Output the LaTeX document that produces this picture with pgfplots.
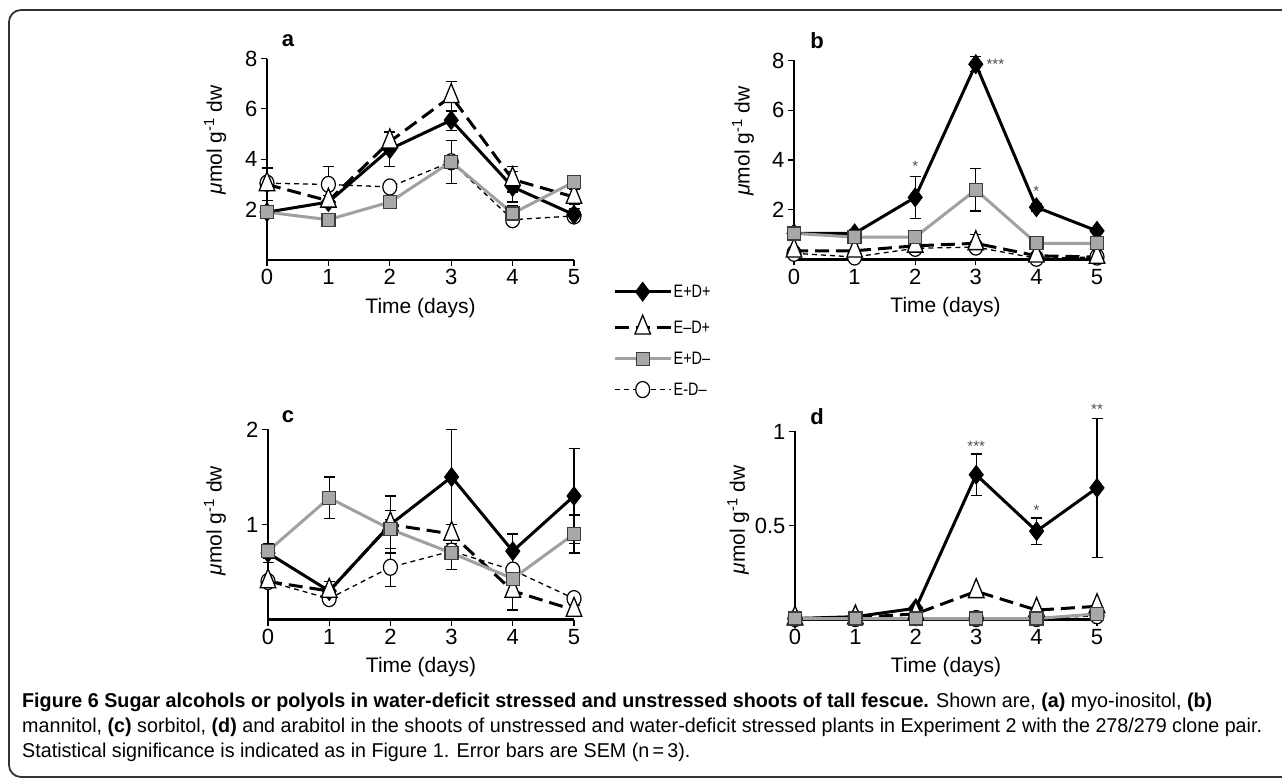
\documentclass[border=0pt]{standalone}
\usepackage{pgfplots}
\pgfplotsset{compat=1.18}
\usepackage{pgfplotstable}
\usepackage{fontspec}
\usepackage{graphicx}
\setmainfont{Liberation Sans}

\definecolor{lgray}{HTML}{A0A0A0}
\definecolor{sqfill}{HTML}{A8A8A8}
\definecolor{sqdraw}{HTML}{3C3C3C}

% columns: pp = E+D+, mp = E-D+, pm = E+D-, mm = E-D-
\pgfplotstableread{
x pp   ppe  mp   mpe  pm   pme  mm   mme
0 1.9  0.1  3.0  0.65 1.9  0.1  3.05 0.1
1 2.3  0.1  2.35 0.2  1.6  0.05 3.0  0.7
2 4.4  0.7  4.7  0.35 2.3  0.05 2.9  0.15
3 5.55 0.4  6.5  0.6  3.9  0.85 3.9  0.1
4 2.9  0.6  3.2  0.5  1.85 0.3  1.6  0.1
5 1.8  0.25 2.5  0.3  3.1  0.1  1.75 0.1
}\tabA
\pgfplotstableread{
x pp   ppe  mp   mpe  pm   pme  mm   mme
0 1.05 0.1  0.35 0.05 1.05 0.1  0.25 0.05
1 1.05 0.15 0.35 0.05 0.9  0.1  0.1  0.05
2 2.5  0.85 0.55 0.1  0.9  0.1  0.45 0.05
3 7.85 0.3  0.65 0.35 2.8  0.85 0.5  0.1
4 2.1  0.15 0.15 0.05 0.65 0.05 0.05 0.05
5 1.15 0.1  0.1  0.05 0.65 0.05 0.1  0.05
}\tabB
\pgfplotstableread{
x pp   ppe  mp   mpe  pm   pme  mm   mme
0 0.7  0.1  0.4  0.05 0.72 0.08 0.4  0.05
1 0.3  0.1  0.3  0.05 1.28 0.22 0.22 0.03
2 1.0  0.3  1.0  0.05 0.95 0.2  0.55 0.2
3 1.5  0.5  0.9  0.1  0.7  0.17 0.72 0.05
4 0.72 0.18 0.3  0.2  0.43 0.05 0.52 0.05
5 1.3  0.5  0.1  0.05 0.9  0.2  0.22 0.03
}\tabC
\pgfplotstableread{
x pp    ppe  mp    mpe  pm    pme  mm    mme
0 0.005 0    0.005 0    0.005 0    0.005 0
1 0.015 0    0.01  0    0.005 0    0.005 0
2 0.06  0.01 0.03  0    0.005 0    0.01  0
3 0.77  0.11 0.15  0    0.005 0    0.005 0
4 0.47  0.07 0.05  0    0.005 0    0.005 0
5 0.7   0.37 0.07  0    0.03  0    0.02  0
}\tabD

\pgfplotsset{
  sPP/.style={black, line width=3pt, mark=diamond*, mark size=9.5pt,
    mark options={solid, fill=black, line width=0.8pt}},
  sMP/.style={black, line width=3pt, dash pattern=on 14pt off 7pt, mark=triangle*, mark size=9pt,
    mark options={solid, fill=white, draw=black, line width=1.3pt, yscale=1.4}},
  sPM/.style={lgray, line width=3pt, mark=square*, mark size=6.5pt,
    mark options={solid, fill=sqfill, draw=sqdraw, line width=1.3pt}},
  sMM/.style={black, line width=1.3pt, dash pattern=on 5pt off 4pt, mark=*, mark size=7pt,
    mark options={solid, fill=white, draw=black, line width=1.2pt, yscale=1.15}},
  ebar/.style={error bars/y dir=both, error bars/y explicit,
    error bars/error bar style={solid, line width=1.2pt, black},
    error bars/error mark options={solid, rotate=90, mark size=5.5pt, line width=1.2pt, black}},
  panel/.style={scale only axis, axis lines=left, axis line style={-, line width=2.2pt, black},
    xmin=0, xmax=5, ymin=0, enlargelimits=false, clip=false,
    xtick={0,1,2,3,4,5}, xticklabels={0,1,2,3,4,5},
    tick align=outside, major tick length=6pt, tick style={line width=1.2pt, black},
    ticklabel style={font=\fontsize{22}{22}\selectfont},
    xlabel={Time (days)}, ylabel={{\itshape μ}mol g\textsuperscript{-1} dw},
    label style={font=\fontsize{21}{21}\selectfont},
    xlabel style={at={(axis description cs:0.5,0)}, anchor=center, yshift=-48pt},
  },
}
\tikzset{stars/.style={font=\fontsize{15}{15}\selectfont, text=black!70}}

\newsavebox\capbox
\newlength\capw
\newcommand\capfont{\fontsize{20}{20}\selectfont}

\begin{document}
\sbox\capbox{\capfont mannitol, \textbf{(c)} sorbitol, \textbf{(d)} and arabitol in the shoots of unstressed and water-deficit stressed plants in Experiment 2 with the 278/279 clone pair.}%
\setlength\capw{\wd\capbox}%
\pgfmathsetmacro\capsx{1240pt/\capw}%
\begin{tikzpicture}[x=1pt, y=1pt]
\useasboundingbox (0,0) rectangle (1282,782);
\draw[line width=1.8pt, black!80, rounded corners=12pt] (1300,772) -- (9,772) -- (9,5) -- (1300,5);

% panel a
\begin{axis}[panel, at={(267pt,522pt)}, anchor=south west, width=307pt, height=201.5pt,
  ymax=8, ytick={2,4,6,8}, yticklabels={2,4,6,8},
  ylabel style={at={(axis description cs:-0.169,0.596)}, anchor=center}]
\addplot[sMM, ebar] table[x=x, y=mm, y error=mme] {\tabA};
\addplot[sPP, ebar] table[x=x, y=pp, y error=ppe] {\tabA};
\addplot[sMP, ebar] table[x=x, y=mp, y error=mpe] {\tabA};
\addplot[sPM, ebar] table[x=x, y=pm, y error=pme] {\tabA};
\node[font=\bfseries\fontsize{22}{22}\selectfont] at (rel axis cs:0.068,1.09) {a};
\end{axis}

% panel b
\begin{axis}[panel, at={(794pt,522.5pt)}, anchor=south west, width=303pt, height=199pt,
  ymax=8, ytick={2,4,6,8}, yticklabels={2,4,6,8},
  ylabel style={at={(axis description cs:-0.168,0.595)}, anchor=center}]
\addplot[sMM, ebar] table[x=x, y=mm, y error=mme] {\tabB};
\addplot[sPP, ebar] table[x=x, y=pp, y error=ppe] {\tabB};
\addplot[sMP, ebar] table[x=x, y=mp, y error=mpe] {\tabB};
\addplot[sPM, ebar] table[x=x, y=pm, y error=pme] {\tabB};
\node[font=\bfseries\fontsize{22}{22}\selectfont] at (rel axis cs:0.076,1.10) {b};
\node[stars] at (axis cs:2,3.75) {*};
\node[stars, anchor=west] at (axis cs:3.12,7.85) {***};
\node[stars] at (axis cs:4,2.75) {*};
\end{axis}

% panel c
\begin{axis}[panel, at={(268pt,162.5pt)}, anchor=south west, width=306pt, height=190pt,
  ymax=2, ytick={1,2}, yticklabels={1,2},
  ylabel style={at={(axis description cs:-0.173,0.52)}, anchor=center}]
\addplot[sMM, ebar] table[x=x, y=mm, y error=mme] {\tabC};
\addplot[sPP, ebar] table[x=x, y=pp, y error=ppe] {\tabC};
\addplot[sMP, ebar] table[x=x, y=mp, y error=mpe] {\tabC};
\addplot[sPM, ebar] table[x=x, y=pm, y error=pme] {\tabC};
\node[font=\bfseries\fontsize{22}{22}\selectfont] at (rel axis cs:0.065,1.066) {c};
\end{axis}

% panel d
\begin{axis}[panel, at={(795pt,162.5pt)}, anchor=south west, width=302pt, height=188pt,
  ymax=1, ytick={0.5,1}, yticklabels={0.5,1},
  ylabel style={at={(axis description cs:-0.188,0.53)}, anchor=center}]
\addplot[sMM, ebar] table[x=x, y=mm, y error=mme] {\tabD};
\addplot[sPP, ebar] table[x=x, y=pp, y error=ppe] {\tabD};
\addplot[sMP, ebar] table[x=x, y=mp, y error=mpe] {\tabD};
\addplot[sPM, ebar] table[x=x, y=pm, y error=pme] {\tabD};
\node[font=\bfseries\fontsize{22}{22}\selectfont] at (rel axis cs:0.073,1.077) {d};
\node[stars] at (axis cs:3,0.92) {***};
\node[stars] at (axis cs:4,0.58) {*};
\node[stars] at (axis cs:5,1.12) {**};
\end{axis}

% legend
\begin{axis}[at={(613pt,500pt)}, anchor=north west, scale only axis, width=60pt, height=60pt,
  hide axis, xmin=0, xmax=1, ymin=0, ymax=1,
  legend style={at={(0,1)}, anchor=north west, draw=none, fill=none, inner sep=0pt,
    row sep=14pt, font=\fontsize{18}{18}\selectfont, cells={anchor=west},
    nodes={inner sep=1.5pt}},
  legend image code/.code={\draw[mark repeat=2, mark phase=2, #1]
    plot coordinates {(0pt,0pt) (28pt,0pt) (56pt,0pt)};}]
\addlegendimage{sPP}\addlegendentry{\scalebox{0.8}[1]{E+D+}}
\addlegendimage{sMP}\addlegendentry{\scalebox{0.8}[1]{E–D+}}
\addlegendimage{sPM}\addlegendentry{\scalebox{0.8}[1]{E+D–}}
\addlegendimage{sMM}\addlegendentry{\scalebox{0.8}[1]{E-D–}}
\end{axis}

% caption
\node[anchor=base west, inner sep=0] at (22,75) {\scalebox{\capsx}[1]{\capfont\textbf{Figure 6 Sugar alcohols or polyols in water-deficit stressed and unstressed shoots of tall fescue.} Shown are, \textbf{(a)} myo-inositol, \textbf{(b)}}};
\node[anchor=base west, inner sep=0] at (22,50) {\scalebox{\capsx}[1]{\usebox\capbox}};
\node[anchor=base west, inner sep=0] at (22,25) {\scalebox{\capsx}[1]{\capfont Statistical significance is indicated as in Figure 1. Error bars are SEM (n\,=\,3).}};
\end{tikzpicture}
\end{document}
